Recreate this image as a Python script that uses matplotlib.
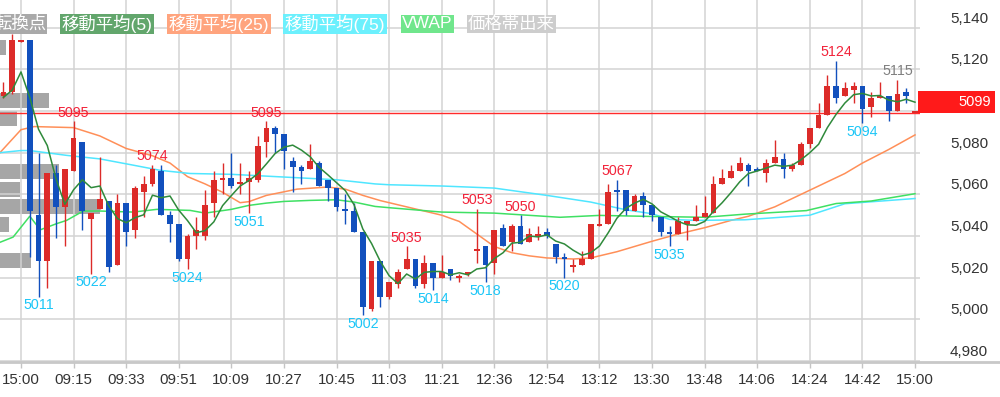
import numpy as np
import pandas as pd
import matplotlib
matplotlib.use("Agg")
import matplotlib.pyplot as plt
import matplotlib.transforms as mtransforms
from matplotlib.patches import Rectangle
from matplotlib.lines import Line2D

plt.rcParams['font.family'] = ['Liberation Sans', 'Noto Sans CJK JP', 'DejaVu Sans']

# 3-minute bars; bar 0 = previous day 15:00, bar 1 = 09:00
bars = np.arange(-2, 103)

opens = [5107, 5109, 5133, 5134, 5050, 5028, 5070, 5054, 5071, 5085, 5048, 5053,
         5057, 5026, 5056, 5043, 5061, 5065, 5071, 5050, 5046, 5029, 5040, 5040,
         5056, 5067, 5068, 5065, 5066, 5067, 5085, 5092, 5089, 5076, 5073, 5072,
         5075, 5067, 5063, 5053, 5052, 5042, 5005, 5028, 5011, 5017, 5024, 5029,
         5017, 5027, 5020, 5024, 5020, 5022, 5033, 5035, 5027, 5044, 5037, 5045,
         5037, 5040, 5042, 5036, 5030, 5025, 5026, 5029, 5045, 5046, 5062, 5062,
         5052, 5059, 5055, 5049, 5042, 5041, 5046, 5047, 5049, 5051, 5065, 5068,
         5071, 5074, 5072, 5070, 5075, 5077, 5072, 5074, 5084, 5092, 5098, 5112,
         5107, 5110, 5112, 5102, 5106, 5107, 5100, 5109, 5099]
highs = [5114, 5137, 5134, 5134, 5080, 5070, 5074, 5072, 5095, 5085, 5051, 5078,
         5057, 5060, 5056, 5064, 5069, 5074, 5074, 5052, 5046, 5041, 5049, 5062,
         5071, 5075, 5080, 5075, 5071, 5088, 5095, 5093, 5089, 5078, 5074, 5084,
         5076, 5067, 5063, 5060, 5056, 5042, 5028, 5028, 5018, 5024, 5035, 5029,
         5031, 5027, 5031, 5024, 5022, 5022, 5053, 5035, 5043, 5046, 5046, 5050,
         5044, 5045, 5044, 5036, 5032, 5029, 5033, 5046, 5053, 5065, 5067, 5062,
         5060, 5061, 5055, 5049, 5045, 5049, 5047, 5055, 5059, 5069, 5072, 5074,
         5078, 5075, 5073, 5077, 5086, 5080, 5075, 5085, 5092, 5104, 5117, 5124,
         5114, 5114, 5112, 5109, 5114, 5107, 5115, 5111, 5099]
lows = [5106, 5108, 5133, 5030, 5011, 5015, 5039, 5035, 5071, 5043, 5022, 5053,
        5023, 5026, 5035, 5039, 5049, 5064, 5050, 5037, 5028, 5024, 5034, 5038,
        5049, 5060, 5063, 5060, 5051, 5066, 5078, 5080, 5072, 5061, 5065, 5072,
        5064, 5057, 5052, 5046, 5042, 5002, 5004, 5006, 5010, 5015, 5024, 5015,
        5015, 5014, 5020, 5019, 5018, 5021, 5027, 5018, 5022, 5035, 5033, 5036,
        5037, 5038, 5039, 5027, 5020, 5023, 5026, 5029, 5045, 5046, 5052, 5050,
        5052, 5049, 5047, 5040, 5035, 5041, 5038, 5047, 5049, 5051, 5065, 5068,
        5071, 5064, 5071, 5066, 5075, 5068, 5071, 5074, 5082, 5092, 5098, 5104,
        5107, 5104, 5094, 5097, 5106, 5095, 5100, 5104, 5099]
closes = [5109, 5134, 5133, 5052, 5028, 5070, 5054, 5072, 5087, 5052, 5051, 5058,
          5025, 5056, 5042, 5063, 5065, 5072, 5050, 5046, 5029, 5040, 5043, 5055,
          5067, 5068, 5064, 5066, 5068, 5083, 5092, 5089, 5081, 5073, 5071, 5076,
          5064, 5063, 5054, 5052, 5042, 5006, 5028, 5011, 5018, 5023, 5029, 5016,
          5027, 5020, 5023, 5021, 5021, 5022, 5034, 5026, 5043, 5035, 5045, 5036,
          5041, 5041, 5040, 5030, 5029, 5026, 5029, 5046, 5046, 5061, 5061, 5052,
          5059, 5055, 5050, 5042, 5041, 5047, 5047, 5049, 5051, 5065, 5068, 5071,
          5075, 5071, 5071, 5075, 5078, 5072, 5074, 5084, 5092, 5098, 5112, 5106,
          5111, 5112, 5101, 5106, 5107, 5100, 5108, 5107, 5099]

# MA(5) before enough closes are on screen (bars -2..1)
ma5_head = [5106.5, 5110.0, 5118.7, 5106.5]

# MA(25), MA(75), VWAP read at sample bars
ma25_x = [-2.4, 0, 1.5, 6, 9, 12, 15, 17, 19, 21, 23, 25, 26, 28, 31.5, 35, 37, 39,
          41, 43, 45, 48, 50, 52, 54, 56, 58, 60, 63, 65, 68, 72, 75, 78, 81, 83,
          86, 90, 94, 96, 99, 102]
ma25_y = [5080, 5091, 5092.5, 5092, 5088, 5082, 5078.5, 5075, 5068.5, 5065, 5061,
          5056, 5056.5, 5059.5, 5062.5, 5063.5, 5062.5, 5059.5, 5057, 5055, 5053,
          5050, 5047, 5041, 5035, 5032, 5030.5, 5029.5, 5029, 5029.5, 5032.5, 5037.5,
          5041, 5044, 5047.5, 5049.5, 5054, 5062, 5070, 5075, 5081.5, 5088.5]
ma75_x = [-2.4, 0, 1, 5.2, 9, 12.8, 15.9, 19.3, 24, 30, 36, 40.4, 42, 48, 54, 60,
          65, 69, 72, 74, 77, 82.6, 90, 94, 102]
ma75_y = [5080, 5081, 5081, 5078.7, 5077, 5074, 5071.5, 5070, 5069.6, 5068.3, 5067,
          5065, 5064.6, 5064, 5063, 5059.5, 5056.3, 5052.6, 5050.7, 5048, 5047.5,
          5047.8, 5050, 5055.5, 5058]
vwap_x = [-2.4, -0.9, 1, 2.2, 4.1, 5.2, 7.1, 9, 12.8, 15.5, 19.3, 21, 24, 26, 28, 30,
          33, 36, 38, 40.4, 42, 48, 54, 61.5, 66, 72, 78, 82.6, 89.6, 93, 97, 102]
vwap_y = [5037, 5039.5, 5049.5, 5043, 5046, 5047.5, 5052, 5052, 5051.5, 5052.8,
          5052.3, 5051, 5052.8, 5054.7, 5055.8, 5056.6, 5057.1, 5057.4, 5056.3, 5054.2,
          5053.6, 5051.5, 5051, 5049, 5049.9, 5049.4, 5049, 5050.5, 5052.2, 5055.6,
          5056.8, 5060.3]

# price-band volume (価格帯出来高)
vp_price = [5130.5, 5105, 5096.5, 5071, 5062.5, 5054, 5045.5, 5028.5]
vp_volume = [6, 49, 17, 59, 20, 100, 9, 31]

# turning points
tp_high = [6, 15, 28, 44, 52, 57, 68, 93]
tp_low = [2, 8, 19, 26, 39, 47, 53, 62, 74, 96]
tp_pending = [100]

last_price = 5099
tick_bars = [0, 6, 12, 18, 24, 30, 36, 42, 48, 54, 60, 66, 72, 78, 84, 90, 96, 102]
time_labels = ['15:00', '09:15', '09:33', '09:51', '10:09', '10:27', '10:45', '11:03',
               '11:21', '12:36', '12:54', '13:12', '13:30', '13:48', '14:06', '14:24',
               '14:42', '15:00']
price_ticks = [4980, 5000, 5020, 5040, 5060, 5080, 5100, 5120, 5140]

tags = ['転換点', '移動平均(5)', '移動平均(25)', '移動平均(75)', 'VWAP', '価格帯出来']
tag_colors = ['#a9a9a9', '#62a66c', '#ffa47e', '#6cf0fd', '#70e68c', '#cdcdcd']

UP = '#dc2b29'
DOWN = '#1250bd'

df = pd.DataFrame({'bar': bars, 'open': opens, 'high': highs, 'low': lows, 'close': closes})
ma5 = df['close'].rolling(5).mean()
ma5.iloc[:len(ma5_head)] = ma5_head

fig = plt.figure(figsize=(10, 3.97), dpi=100)
fig.patch.set_facecolor('white')
ax_h = 362 / 397
ax = fig.add_axes([0, 1 - ax_h, 0.92, ax_h])
ax_vp = ax.twiny()
ax_vp.set_zorder(ax.get_zorder() - 1)
ax.patch.set_visible(False)
ax_vp.patch.set_facecolor('white')

ax.set_xlim(-2.396, 102.57)
ax.set_ylim(4979.6, 5153.2)

# volume profile
ax_vp.barh(vp_price, vp_volume, height=7.2, color='#9c9c9c', alpha=0.9, linewidth=0)
ax_vp.set_xlim(0, 920)
ax_vp.axis('off')

ax.grid(True, color='#d3d3d3', lw=1.1)
ax.set_axisbelow(True)
for s in ax.spines.values():
    s.set_visible(False)

ax.axhline(last_price, color='#ff2b2b', lw=1.0, zorder=2)

# moving averages
ax.plot(ma25_x, ma25_y, color='#ff8f58', lw=1.1, zorder=3)
ax.plot(ma75_x, ma75_y, color='#4fe6ff', lw=1.1, zorder=3)
ax.plot(vwap_x, vwap_y, color='#3fe063', lw=1.1, zorder=3)

# candles
o = df['open'].values
c = df['close'].values
colors = [UP if cc >= oo else DOWN for oo, cc in zip(o, c)]
ax.vlines(df['bar'], df['low'], df['high'], colors=colors, lw=1.0, zorder=4)
body = np.maximum(np.abs(c - o), 0.8)
ax.bar(df['bar'], body, bottom=np.minimum(o, c), width=0.66, color=colors, zorder=5)

ax.plot(df['bar'], ma5, color='#2f8a3b', lw=1.1, zorder=6)

# turning point labels
for i in tp_high:
    h = df.loc[df['bar'] == i, 'high'].iloc[0]
    ax.annotate(f'{h}', (i, h), xytext=(0, 1.2), textcoords='offset points',
                ha='center', va='bottom', color='#f2233a', fontsize=10.3, zorder=7)
for i in tp_low:
    l = df.loc[df['bar'] == i, 'low'].iloc[0]
    ax.annotate(f'{l}', (i, l), xytext=(0, -1.2), textcoords='offset points',
                ha='center', va='top', color='#1cc6f7', fontsize=10.3, zorder=7)
for i in tp_pending:
    h = df.loc[df['bar'] == i, 'high'].iloc[0]
    ax.annotate(f'{h}', (i, h), xytext=(0, 1.2), textcoords='offset points',
                ha='center', va='bottom', color='#808080', fontsize=10.3, zorder=7)

# axes ticks
ax.set_xticks(tick_bars)
ax.set_xticklabels(time_labels)
ax.tick_params(axis='x', length=4, width=1, color='#c4c4c4', labelsize=10.8,
               labelcolor='#333333', pad=4)
ax.set_yticks(price_ticks)
ax.tick_params(axis='y', length=0, labelleft=False, labelright=False)

trans = mtransforms.blended_transform_factory(fig.transFigure, ax.transData)
lab_trans = mtransforms.offset_copy(trans, fig=fig, y=9, units='dots')
box_h = 10.55
for p in price_ticks:
    # the label hidden behind the current-price box is not shown
    if last_price - 2 <= p <= last_price + box_h:
        continue
    fig.text(0.988, p, f'{p:,}', transform=lab_trans, ha='right', va='center',
             fontsize=11, color='#333333', zorder=1)

# current price box
fig.add_artist(Rectangle((0.918, last_price), 0.077, box_h, transform=trans,
                         facecolor='#ff1a1a', edgecolor='none', zorder=10))
fig.text(0.991, last_price + box_h / 2, f'{last_price}', transform=trans, ha='right',
         va='center', fontsize=10.5, color='white', zorder=11)

# bottom rule
fig.add_artist(Line2D([0, 1], [1 - ax_h, 1 - ax_h], transform=fig.transFigure,
                      color='#c8c8c8', lw=2, zorder=9))

# legend tags
tag_y = 1 - 24 / 397
tag_pos = [(0.046, 'right'), (0.107, 'center'), (0.219, 'center'), (0.335, 'center'),
           (0.4275, 'center'), (0.468, 'left')]
for txt, col, (x, ha) in zip(tags, tag_colors, tag_pos):
    fig.text(x, tag_y, txt, ha=ha, va='center', color='white', fontsize=12.5,
             zorder=12, bbox=dict(boxstyle='square,pad=0.08', fc=col, ec='none'))

fig.savefig('out.png', dpi=100)
